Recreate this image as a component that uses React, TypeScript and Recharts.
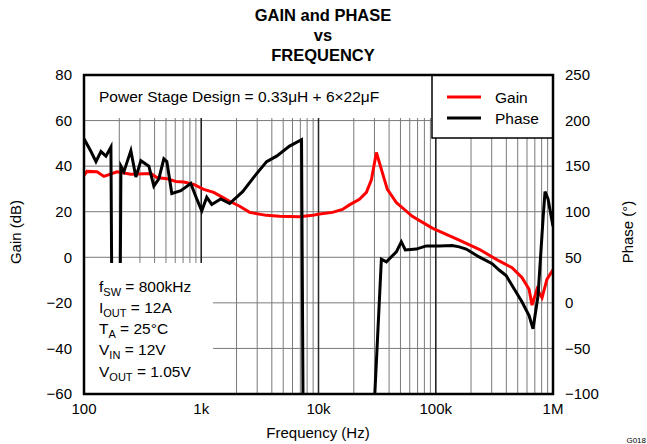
import {
  CartesianGrid,
  Line,
  LineChart,
  ReferenceLine,
  XAxis,
  YAxis,
} from "recharts"

// frequency (Hz) and gain (dB)
const gainFreq = [
  100, 106, 129, 148, 191, 251, 372, 418, 509, 607, 710, 863, 1050, 1278,
  1495, 1748, 2127, 2587, 3610, 4656, 6893, 8890, 10200, 13150, 16010,
  18360, 22340, 25620, 28260, 31170, 34380, 38660, 46120, 63100, 93400,
  158500, 234600, 347100, 447800, 544800, 624800, 662700, 730800, 806200,
  889000, 1000000,
]
const gainDb = [
  36, 37.7, 37.5, 35.5, 37.5, 36.4, 36.8, 35, 34.5, 33.3, 33, 32, 29.8,
  28.5, 26.5, 24.6, 22.4, 19.7, 18.4, 18, 17.8, 18.4, 19, 19.7, 21, 23,
  25.4, 28.5, 34, 46, 38.6, 29.8, 24, 18, 12.8, 7.5, 3.5, -1.6, -4.6, -9,
  -14, -21, -14, -17.7, -9.6, -5.5,
]

// frequency (Hz) and phase (deg) (wraps below the axis)
const phaseFreq = [
  100, 114.7, 126.5, 139.5, 153.9, 169.7, 176.5, 198.6, 206.5, 219, 251,
  277, 305.6, 357.5, 394.2, 434.7, 479.6, 508.6, 561, 669.3, 738, 813.9,
  915.6, 1010, 1114, 1229, 1466, 1748, 2255, 2853, 3610, 4392, 5665, 7166,
  7451, 27710, 34380, 37910, 46120, 50860, 55010, 68230, 83010, 107100,
  138200, 158500, 181800, 234600, 302700, 347100, 398100, 447800, 544800,
  624800, 675800, 745600, 822100, 854900, 907100, 1000000,
]
const phaseDeg = [
  180, 166, 155, 166, 161, 171, -200, -200, 150, 144, 167, 138, 156, 150,
  128, 136, 158, 155, 120, 123, 127, 131, 114, 101, 116, 108, 114, 109,
  122, 139, 155, 161, 172, 179, -200, -200, 48, 45, 56, 67, 58, 59, 62.5,
  62.5, 63, 61.4, 59, 50.4, 43, 36, 30, 19, 1, -14, -28.5, 8, 92, 122, 114,
  84,
]

const gainTicks = [-60, -40, -20, 0, 20, 40, 60, 80]
const phaseTicks = [-100, -50, 0, 50, 100, 150, 200, 250]
const decades = [100, 1000, 10000, 100000, 1000000]
const decadeLabels = ["100", "1k", "10k", "100k", "1M"]

const freqTicks: number[] = []
decades.slice(0, 4).forEach((d) => {
  for (let m = 1; m < 10; m++) freqTicks.push(d * m)
})
freqTicks.push(1000000)

const gainData = gainFreq.map((f, i) => ({ f, gain: gainDb[i] }))
const phaseData = phaseFreq.map((f, i) => ({ f, phase: phaseDeg[i] }))

const font = "'Liberation Sans', Arial, sans-serif"
const minus = (v: number) => String(v).replace("-", "\u2212")

export default function App() {
  return (
    <div
      style={{
        position: "absolute",
        left: 0,
        top: 0,
        width: 647,
        height: 444,
        background: "#fff",
        fontFamily: font,
      }}
    >
      <LineChart
        width={647}
        height={444}
        margin={{ top: 75, right: 0, bottom: 0, left: 0 }}
      >
        <CartesianGrid
          yAxisId="left"
          stroke="#7a7a7a"
          strokeWidth={1}
        />
        <XAxis
          dataKey="f"
          type="number"
          scale="log"
          domain={[100, 1000000]}
          allowDataOverflow
          ticks={freqTicks}
          interval={0}
          height={50}
          tickLine={false}
          axisLine={false}
          tickSize={0}
          tickMargin={9}
          tickFormatter={(v: number) => {
            const i = decades.findIndex((d) => Math.abs(d - v) < 1e-6 * d)
            return i >= 0 ? decadeLabels[i] : ""
          }}
          tick={{ fill: "#000", fontSize: 15, fontFamily: font }}
        />
        <YAxis
          yAxisId="left"
          domain={[-60, 80]}
          ticks={gainTicks}
          width={84}
          tickLine={false}
          axisLine={false}
          tickSize={0}
          tickMargin={12}
          allowDataOverflow
          tickFormatter={minus}
          tick={{ fill: "#000", fontSize: 15, fontFamily: font }}
        />
        <YAxis
          yAxisId="right"
          orientation="right"
          domain={[-100, 250]}
          ticks={phaseTicks}
          width={94}
          tickLine={false}
          axisLine={false}
          tickSize={0}
          tickMargin={12}
          allowDataOverflow
          tickFormatter={minus}
          tick={{ fill: "#000", fontSize: 15, fontFamily: font }}
        />
        {decades.slice(1, 4).map((d) => (
          <ReferenceLine
            key={d}
            x={d}
            yAxisId="left"
            stroke="#222"
            strokeWidth={1.5}
          />
        ))}
        <Line
          yAxisId="left"
          data={gainData}
          dataKey="gain"
          type="linear"
          stroke="#ff0000"
          strokeWidth={3}
          dot={false}
          isAnimationActive={false}
        />
        <Line
          yAxisId="right"
          data={phaseData}
          dataKey="phase"
          type="linear"
          stroke="#000"
          strokeWidth={3}
          dot={false}
          isAnimationActive={false}
        />
      </LineChart>

      <svg
        width={647}
        height={444}
        style={{ position: "absolute", left: 0, top: 0, pointerEvents: "none" }}
        fontFamily={font}
      >
        <text x={323} y={21} textAnchor="middle" fontSize={16.5} fontWeight="bold">
          GAIN and PHASE
        </text>
        <text x={323} y={41} textAnchor="middle" fontSize={16.5} fontWeight="bold">
          vs
        </text>
        <text x={323} y={61} textAnchor="middle" fontSize={16.5} fontWeight="bold">
          FREQUENCY
        </text>

        {/* design note box */}
        <rect x={84} y={75} width={348} height={43} fill="#fff" />
        <text x={99} y={102} fontSize={15.5}>
          Power Stage Design = 0.33μH + 6×22μF
        </text>

        {/* legend */}
        <rect x={432} y={75} width={121} height={63} fill="#fff" stroke="#000" strokeWidth={1.5} />
        <line x1={447} x2={481} y1={97} y2={97} stroke="#ff0000" strokeWidth={3} />
        <text x={495} y={103} fontSize={15.5}>Gain</text>
        <line x1={447} x2={481} y1={118} y2={118} stroke="#000" strokeWidth={3} />
        <text x={495} y={124} fontSize={15.5}>Phase</text>

        {/* conditions box */}
        <rect x={84} y={263} width={129} height={131} fill="#fff" />
        <g fontSize={15.5}>
          <text x={99} y={292}>
            f<tspan fontSize={11} dy={4}>SW</tspan>
            <tspan dy={-4}> = 800kHz</tspan>
          </text>
          <text x={99} y={313}>
            I<tspan fontSize={11} dy={4}>OUT</tspan>
            <tspan dy={-4}> = 12A</tspan>
          </text>
          <text x={99} y={334}>
            T<tspan fontSize={11} dy={4}>A</tspan>
            <tspan dy={-4}> = 25°C</tspan>
          </text>
          <text x={99} y={355}>
            V<tspan fontSize={11} dy={4}>IN</tspan>
            <tspan dy={-4}> = 12V</tspan>
          </text>
          <text x={99} y={377}>
            V<tspan fontSize={11} dy={4}>OUT</tspan>
            <tspan dy={-4}> = 1.05V</tspan>
          </text>
        </g>

        {/* plot frame */}
        <rect x={84} y={75} width={469} height={319} fill="none" stroke="#000" strokeWidth={2.5} />

        <text x={21} y={232} fontSize={15} textAnchor="middle" transform="rotate(-90 21 232)">
          Gain (dB)
        </text>
        <text x={633} y={232} fontSize={15} textAnchor="middle" transform="rotate(-90 633 232)">
          Phase (°)
        </text>
        <text x={318} y={438} fontSize={15} textAnchor="middle">
          Frequency (Hz)
        </text>
        <text x={646} y={443} fontSize={8} textAnchor="end">
          G018
        </text>
      </svg>
    </div>
  )
}
